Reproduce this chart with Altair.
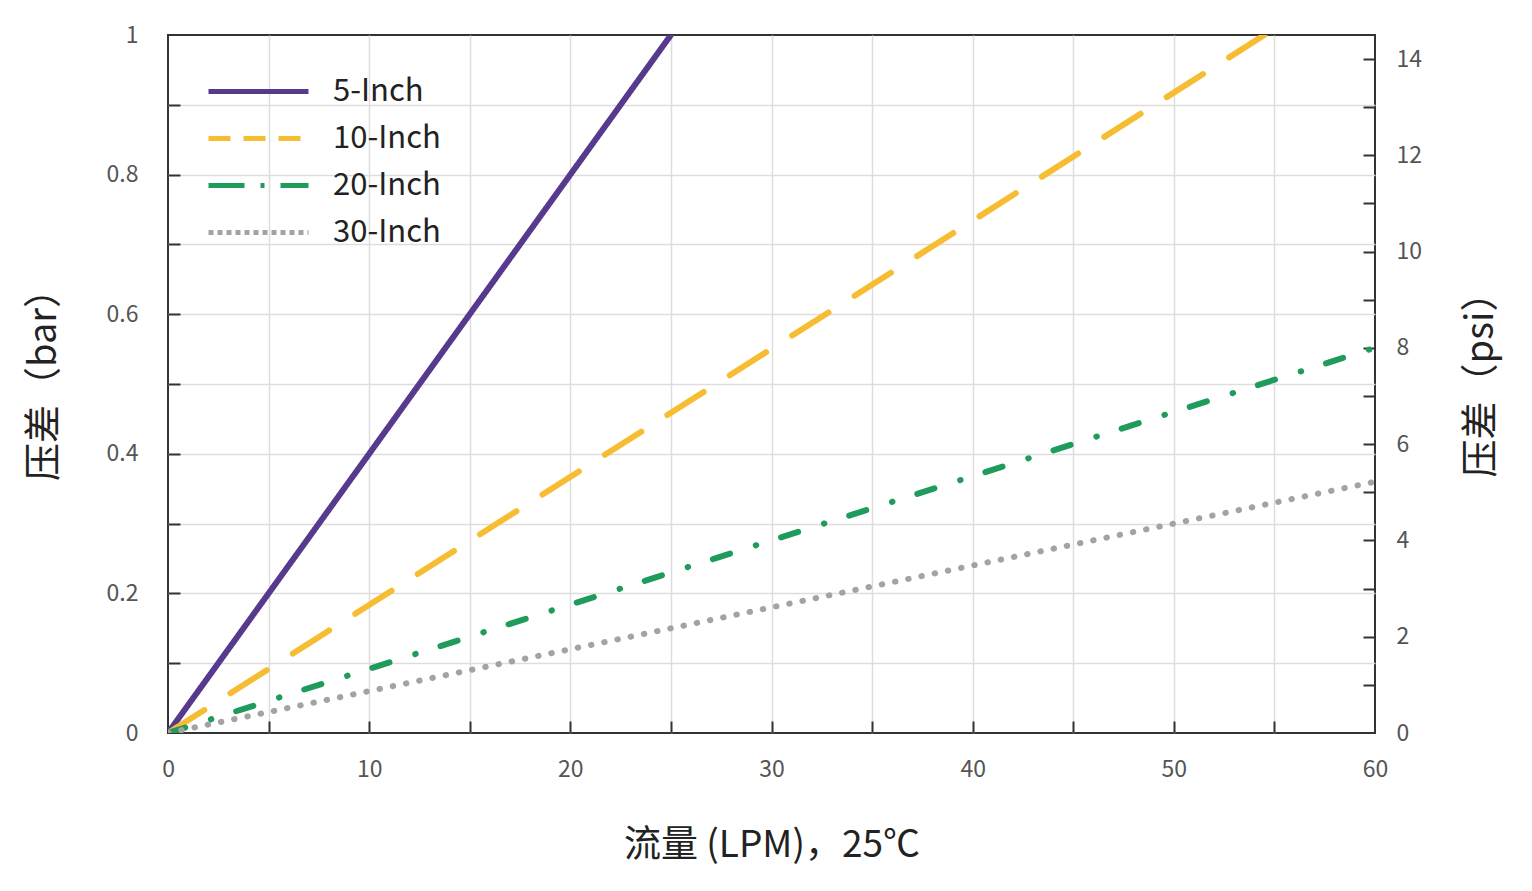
import pandas as pd
import altair as alt

# filter series, end points of each straight line (flow in LPM, pressure drop in bar)
series = ["5-Inch", "10-Inch", "20-Inch", "30-Inch"]
colors = ["#573a8e", "#f6bd33", "#1f9b5c", "#a3a3a3"]
dashes = [[1, 0], [43, 31], [18, 27, 0.5, 26], [0.5, 13]]
legend_dashes = [[1, 0], [22, 13], [36, 16, 4, 16], [5, 4]]
flow_start = [0, 0, 0, 0]
bar_start = [0, 0, 0, 0]
flow_end = [25, 54.5, 60, 60]
bar_end = [1.0, 1.0, 0.552, 0.36]

flow_labels = [0, 10, 20, 30, 40, 50, 60]
flow_minor = [5, 10, 15, 20, 25, 30, 35, 40, 45, 50, 55]
bar_labels = [0, 0.2, 0.4, 0.6, 0.8, 1]
bar_minor = [0.1, 0.2, 0.3, 0.4, 0.5, 0.6, 0.7, 0.8, 0.9]
psi_labels = [0, 2, 4, 6, 8, 10, 12, 14]
psi_minor = [1, 2, 3, 4, 5, 6, 7, 8, 9, 10, 11, 12, 13, 14]
BAR_TO_PSI = 14.5

rows = []
for s, f0, b0, f1, b1 in zip(series, flow_start, bar_start, flow_end, bar_end):
    rows.append({"series": s, "flow": f0, "bar": b0})
    rows.append({"series": s, "flow": f1, "bar": b1})
df = pd.DataFrame(rows)

W, H = 1207, 698
FONT = "Noto Sans CJK SC"

x_scale = alt.Scale(domain=[0, 60], nice=False)
bar_scale = alt.Scale(domain=[0, 1], nice=False)
psi_scale = alt.Scale(domain=[0, BAR_TO_PSI], nice=False)
color_scale = alt.Scale(domain=series, range=colors)

legend = alt.Legend(
    title=None, orient="none", legendX=38, legendY=33,
    symbolType="stroke", symbolSize=10000, symbolStrokeWidth=5,
    labelFont=FONT, labelFontSize=31, labelColor="#222", labelOffset=22,
    clipHeight=47, rowPadding=0, padding=0,
)

base = alt.Chart(df)

# the lines, with the labelled bottom and left axes
lines = base.mark_line(strokeWidth=6, strokeCap="round", clip=True).encode(
    x=alt.X("flow:Q", scale=x_scale, axis=alt.Axis(
        orient="bottom", values=flow_labels, ticks=False, tickSize=0, domain=False, grid=False,
        labelFlush=False, labelFont=FONT, labelFontSize=23, labelColor="#555", labelPadding=25,
        title="流量 (LPM)，25℃", titleFont=FONT, titleFontSize=37, titleFontWeight="normal",
        titleColor="#222", titleY=112, titleBaseline="middle")),
    y=alt.Y("bar:Q", scale=bar_scale, axis=alt.Axis(
        orient="left", values=bar_labels, format="~g", ticks=False, tickSize=0, domain=False, grid=False,
        labelFlush=False, labelFont=FONT, labelFontSize=23, labelColor="#555", labelPadding=30,
        title="压差（bar）", titleFont=FONT, titleFontSize=38, titleFontWeight="normal",
        titleColor="#222", titleX=-124, titleY=H / 2 - 9, titleBaseline="middle", titleAlign="center")),
    color=alt.Color("series:N", scale=color_scale, legend=None),
    strokeDash=alt.StrokeDash("series:N", scale=alt.Scale(domain=series, range=dashes), legend=None),
)

# legend only: no rows drawn, own dash patterns like the reference key
key = base.transform_filter("false").mark_line(strokeWidth=5).encode(
    x=alt.X("flow:Q", scale=x_scale, axis=None),
    y=alt.Y("bar:Q", scale=bar_scale, axis=None),
    color=alt.Color("series:N", scale=color_scale, legend=legend),
    strokeDash=alt.StrokeDash("series:N", scale=alt.Scale(domain=series, range=legend_dashes), legend=legend),
)

# inward ticks + grid for flow and bar
bar_ticks = base.mark_line(opacity=0).encode(
    x=alt.X("flow:Q", scale=x_scale, axis=alt.Axis(
        orient="top", offset=-H, values=flow_minor, labels=False, domain=False,
        ticks=True, tickSize=12, tickWidth=2, tickColor="#333",
        grid=True, gridColor="#dddddd", gridWidth=1.5, title=None)),
    y=alt.Y("bar:Q", scale=bar_scale, axis=alt.Axis(
        orient="right", offset=-W, values=bar_minor, labels=False, domain=False,
        ticks=True, tickSize=12, tickWidth=2, tickColor="#333",
        grid=True, gridColor="#dddddd", gridWidth=1.5, title=None)),
    detail="series:N",
)

psi_base = base.transform_calculate(psi=f"datum.bar * {BAR_TO_PSI}")

psi_axis = psi_base.mark_line(opacity=0).encode(
    x=alt.X("flow:Q", scale=x_scale, axis=None),
    y=alt.Y("psi:Q", scale=psi_scale, axis=alt.Axis(
        orient="right", values=psi_labels, ticks=False, tickSize=0, domain=False, grid=False,
        labelFlush=False, labelFont=FONT, labelFontSize=23, labelColor="#555", labelPadding=21,
        title="压差（psi）", titleFont=FONT, titleFontSize=38, titleFontWeight="normal",
        titleColor="#222", titleAngle=270, titleX=106, titleY=H / 2 - 9,
        titleBaseline="middle", titleAlign="center")),
    detail="series:N",
)

psi_ticks = psi_base.mark_line(opacity=0).encode(
    x=alt.X("flow:Q", scale=x_scale, axis=None),
    y=alt.Y("psi:Q", scale=psi_scale, axis=alt.Axis(
        orient="left", offset=-W, values=psi_minor, labels=False, domain=False,
        ticks=True, tickSize=12, tickWidth=2, tickColor="#333", grid=False, title=None)),
    detail="series:N",
)

bar_layers = (
    alt.layer(lines, bar_ticks, key)
    .resolve_scale(color="independent", strokeDash="independent")
    .resolve_axis(x="independent", y="independent")
)
psi_layers = alt.layer(psi_axis, psi_ticks).resolve_axis(y="independent")

chart = (
    alt.layer(bar_layers, psi_layers)
    .resolve_scale(y="independent")
    .resolve_axis(x="independent", y="independent")
    .properties(
        width=W, height=H,
        autosize=alt.AutoSizeParams(type="none"),
        padding={"left": 160, "top": 27, "right": 140, "bottom": 140},
    )
    .configure_view(stroke="#333", strokeWidth=2)
)

chart.save("out.html", embed_options={"renderer": "svg", "actions": False})
